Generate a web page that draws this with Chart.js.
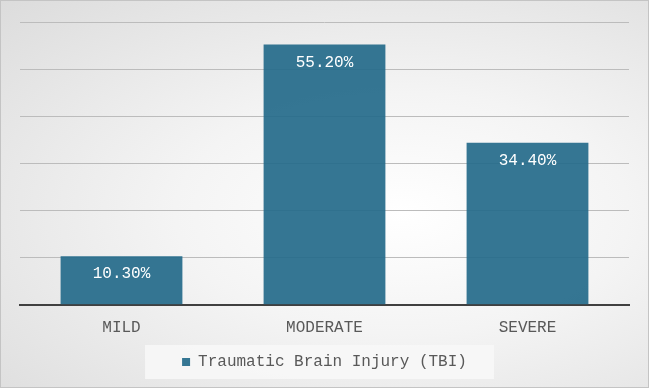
<!DOCTYPE html>
<html>
<head>
<meta charset="utf-8">
<script src="https://cdn.jsdelivr.net/npm/chart.js@4"></script>
<style>
  html, body { margin: 0; padding: 0; }
  body {
    width: 649px; height: 388px; overflow: hidden;
  }
  .frame {
    position: relative; width: 647px; height: 386px;
    border: 1px solid #c4c4c4;
    background: radial-gradient(ellipse at 62% 55%, #ffffff 0%, #f4f4f4 40%, #dcdcdc 100%);
  }
  canvas { display: block; }
</style>
</head>
<body>
<div class="frame"><canvas id="tbiChart" width="647" height="386"></canvas></div>
<script>
const categories = ['MILD', 'MODERATE', 'SEVERE'];
const tbiValues = [10.3, 55.2, 34.4];
const seriesName = 'Traumatic Brain Injury (TBI)';

const monoFont = "'Liberation Mono', 'DejaVu Sans Mono', monospace";

// white value labels inside the top of each bar
const valueLabels = {
    id: 'valueLabels',
    afterDatasetsDraw(chart) {
        const ctx = chart.ctx;
        const meta = chart.getDatasetMeta(0);
        ctx.save();
        ctx.fillStyle = '#ffffff';
        ctx.font = '16px ' + monoFont;
        ctx.textAlign = 'center';
        ctx.textBaseline = 'middle';
        meta.data.forEach((bar, i) => {
            ctx.fillText(tbiValues[i].toFixed(2) + '%', bar.x, bar.y + 18);
        });
        ctx.restore();
    }
};

// light box behind the legend
const legendBox = {
    id: 'legendBox',
    beforeDraw(chart) {
        const boxes = chart.legend && chart.legend.legendHitBoxes;
        if (!boxes || !boxes.length) return;
        const b = boxes[0];
        const ctx = chart.ctx;
        ctx.save();
        ctx.fillStyle = 'rgba(248,248,248,0.85)';
        ctx.fillRect(b.left - 37, b.top - 9, b.width + 64, b.height + 18);
        ctx.restore();
    }
};

document.addEventListener('DOMContentLoaded', () => {
    const ctx = document.getElementById('tbiChart').getContext('2d');
    new Chart(ctx, {
        type: 'bar',
        data: {
            labels: categories,
            datasets: [{
                label: seriesName,
                data: tbiValues,
                backgroundColor: 'rgba(36,106,138,0.92)',
                borderWidth: 0,
                categoryPercentage: 0.6,
                barPercentage: 1
            }]
        },
        options: {
            responsive: false,
            animation: false,
            layout: { padding: { left: 19, right: 19, top: 21, bottom: 7 } },
            plugins: {
                legend: {
                    position: 'bottom',
                    labels: {
                        color: '#595959',
                        font: { family: monoFont, size: 16 },
                        boxWidth: 8,
                        boxHeight: 8,
                        padding: 12
                    }
                },
                tooltip: { enabled: false }
            },
            scales: {
                x: {
                    grid: { display: false },
                    border: { color: '#404040', width: 2 },
                    ticks: {
                        color: '#595959',
                        font: { family: monoFont, size: 16 },
                        padding: 5
                    }
                },
                y: {
                    min: 0,
                    max: 60,
                    ticks: { display: false, stepSize: 10 },
                    grid: { color: '#bcbcbc', drawTicks: false, lineWidth: 1 },
                    border: { display: false }
                }
            }
        },
        plugins: [legendBox, valueLabels]
    });
});
</script>
</body>
</html>
